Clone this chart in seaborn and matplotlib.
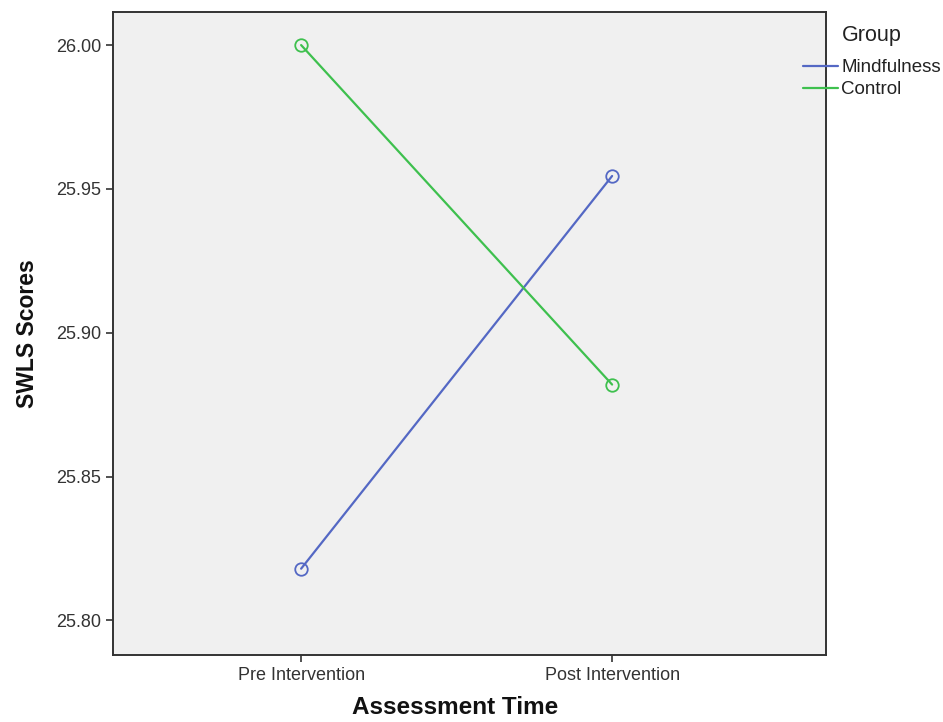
import pandas as pd
import numpy as np
import seaborn as sns
import matplotlib
matplotlib.use("Agg")
import matplotlib.pyplot as plt
from matplotlib.lines import Line2D

# data
times = ["Pre Intervention", "Post Intervention"]
mindfulness = [25.818, 25.9545]
control = [26.000, 25.882]
groups = ["Mindfulness", "Control"]
yticks = [25.80, 25.85, 25.90, 25.95, 26.00]

df = pd.DataFrame({
    "time": times * 2,
    "score": mindfulness + control,
    "group": [groups[0]] * 2 + [groups[1]] * 2,
})

sns.set_style("white")
plt.rcParams['font.family'] = ['Liberation Sans', 'DejaVu Sans']

fig = plt.figure(figsize=(9.43, 7.22), dpi=100)
ax = fig.add_axes([0.1198, 0.0928, 0.876 - 0.1198, 0.9834 - 0.0928])
ax.set_facecolor("#f0f0f0")

palette = {"Mindfulness": "#5468c4", "Control": "#3ec04e"}
sns.lineplot(data=df, x="time", y="score", hue="group", palette=palette,
             marker="o", markersize=9, markerfacecolor="none", markeredgewidth=1.3,
             linewidth=1.6, ax=ax, legend=False)
for ln in ax.lines:
    ln.set_markeredgecolor(ln.get_color())

ax.set_xlim(-0.605, 1.688)
ax.set_ylim(25.788, 26.0115)
ax.set_yticks(yticks)
ax.set_yticklabels(["%.2f" % v for v in yticks])

for s in ax.spines.values():
    s.set_color("#333333")
    s.set_linewidth(1.4)
ax.tick_params(axis="both", direction="out", length=5, width=1.2, color="#333333",
               labelsize=13, labelcolor="#333333", left=True, bottom=True)

ax.set_xlabel("Assessment Time", fontsize=17.5, fontweight="bold", color="#111111")
ax.xaxis.set_label_coords(0.480, -0.064)
ax.set_ylabel("SWLS Scores", fontsize=16.5, fontweight="bold", labelpad=12, color="#111111")

# legend outside, top right
handles = [Line2D([], [], color=palette[g], linewidth=1.6) for g in groups]
leg = fig.legend(handles, groups, loc="upper left",
                 bbox_to_anchor=(803 / 943, (722 - 59) / 722), frameon=False, fontsize=13.5,
                 handlelength=1.87, handletextpad=0.16,
                 labelspacing=0.27, borderpad=0, borderaxespad=0)
for t in leg.get_texts():
    t.set_color("#222222")
fig.text(872 / 943, (722 - 35) / 722, "Group", ha="center", va="center",
         fontsize=15.5, color="#222222")

fig.savefig("out.png", dpi=100)
